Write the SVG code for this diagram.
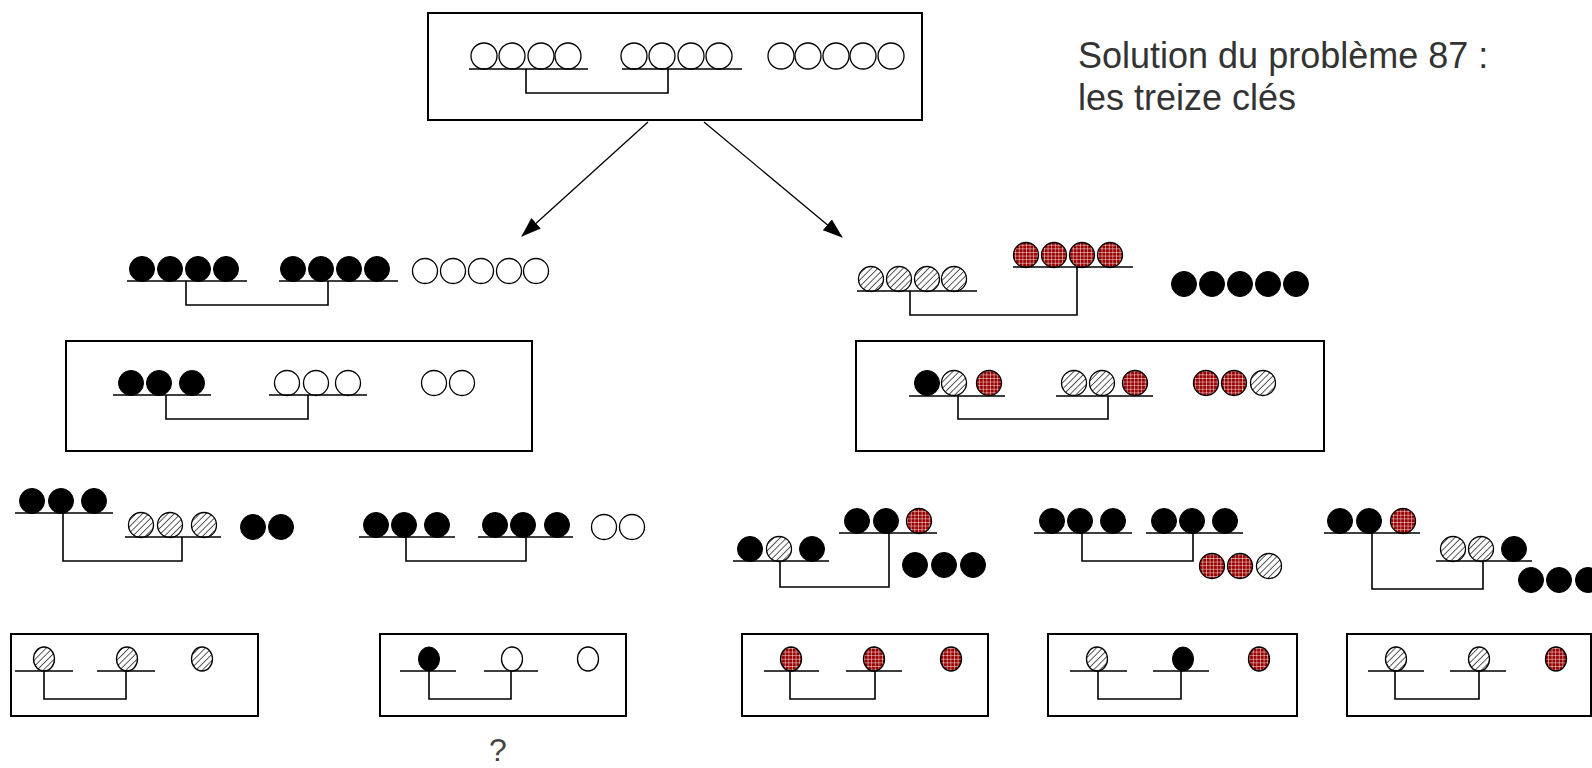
<svg xmlns="http://www.w3.org/2000/svg" width="1592" height="768" viewBox="0 0 1592 768">
<defs>
<pattern id="hatch" patternUnits="userSpaceOnUse" width="4.5" height="4.5" patternTransform="rotate(45)">
<rect width="4.5" height="4.5" fill="#fff"/>
<line x1="0" y1="0" x2="0" y2="4.5" stroke="#000" stroke-width="1.3"/>
</pattern>
<pattern id="grid" patternUnits="userSpaceOnUse" width="3.6" height="3.6">
<rect width="3.6" height="3.6" fill="#980000"/>
<path d="M0,0.4H3.6M0.4,0V3.6" stroke="#ffffff" stroke-width="0.7" stroke-opacity="0.7"/>
</pattern>
<marker id="ah" markerUnits="userSpaceOnUse" markerWidth="20" markerHeight="14" refX="19" refY="7" orient="auto">
<path d="M0,0 L20,7 L0,14 z" fill="#000"/>
</marker>
<style>
.box{fill:#fff;stroke:#000;stroke-width:2}
.o{fill:#fff;stroke:#000;stroke-width:1.3}
.b{fill:#000;stroke:#000;stroke-width:1}
.h{fill:url(#hatch);stroke:#000;stroke-width:1.3}
.r{fill:url(#grid);stroke:#000;stroke-width:1.3}
.ln{fill:none;stroke:#000;stroke-width:1.6}
.arr{stroke:#000;stroke-width:1.3;fill:none}
.t{font-family:"Liberation Sans",Arial,sans-serif;font-size:36px;fill:#333}
.q{font-family:"Liberation Sans",Arial,sans-serif;font-size:32px;fill:#444}
</style>
</defs>
<rect width="1592" height="768" fill="#fff"/>

<g id="connectors">
<line class="arr" x1="648" y1="122" x2="522" y2="236" marker-end="url(#ah)"/>
<line class="arr" x1="704" y1="122" x2="842" y2="237" marker-end="url(#ah)"/>
</g>

<g id="n-top">
<rect class="box" x="428" y="13" width="494" height="107"/>
<g class="o">
<circle cx="484" cy="56" r="13"/><circle cx="512" cy="56" r="13"/><circle cx="541" cy="56" r="13"/><circle cx="568" cy="56" r="13"/>
<circle cx="634" cy="56" r="13"/><circle cx="662" cy="56" r="13"/><circle cx="691" cy="56" r="13"/><circle cx="719" cy="56" r="13"/>
<circle cx="781" cy="56" r="13"/><circle cx="808" cy="56" r="13"/><circle cx="836" cy="56" r="13"/><circle cx="863" cy="56" r="13"/><circle cx="891" cy="56" r="13"/>
</g>
<path class="ln" d="M469,69H588M622,69H742M526,69V93H668V69"/>
</g>

<g id="title">
<text class="t" x="1078" y="68">Solution du problème 87 :</text>
<text class="t" x="1078" y="110">les treize clés</text>
</g>

<g id="n-l1">
<g class="b">
<circle cx="142" cy="269" r="12.5"/><circle cx="170" cy="269" r="12.5"/><circle cx="198" cy="269" r="12.5"/><circle cx="226" cy="269" r="12.5"/>
<circle cx="293" cy="269" r="12.5"/><circle cx="321" cy="269" r="12.5"/><circle cx="349" cy="269" r="12.5"/><circle cx="377" cy="269" r="12.5"/>
</g>
<g class="o">
<circle cx="425" cy="271" r="12.5"/><circle cx="453" cy="271" r="12.5"/><circle cx="481" cy="271" r="12.5"/><circle cx="509" cy="271" r="12.5"/><circle cx="536" cy="271" r="12.5"/>
</g>
<path class="ln" d="M127,281H247M279,281H398M186,281V305H328V281"/>
</g>

<g id="n-r1">
<g class="h">
<circle cx="871" cy="279" r="12.5"/><circle cx="899" cy="279" r="12.5"/><circle cx="927" cy="279" r="12.5"/><circle cx="954" cy="279" r="12.5"/>
</g>
<g class="r">
<circle cx="1026" cy="255" r="12.5"/><circle cx="1054" cy="255" r="12.5"/><circle cx="1082" cy="255" r="12.5"/><circle cx="1110" cy="255" r="12.5"/>
</g>
<g class="b">
<circle cx="1184" cy="284" r="12.5"/><circle cx="1212" cy="284" r="12.5"/><circle cx="1240" cy="284" r="12.5"/><circle cx="1268" cy="284" r="12.5"/><circle cx="1296" cy="284" r="12.5"/>
</g>
<path class="ln" d="M857,291H977M1013,267H1133M910,291V315H1077V267"/>
</g>

<g id="n-l2">
<rect class="box" x="66" y="341" width="466" height="110"/>
<g class="b"><circle cx="131" cy="383" r="12.5"/><circle cx="159" cy="383" r="12.5"/><circle cx="192" cy="383" r="12.5"/></g>
<g class="o"><circle cx="287" cy="383" r="12.5"/><circle cx="316" cy="383" r="12.5"/><circle cx="348" cy="383" r="12.5"/>
<circle cx="434" cy="383" r="12.5"/><circle cx="462" cy="383" r="12.5"/></g>
<path class="ln" d="M113,395H211M269,395H367M166,395V419H308V395"/>
</g>

<g id="n-r2">
<rect class="box" x="856" y="341" width="468" height="110"/>
<circle class="b" cx="927" cy="383" r="12.5"/><circle class="h" cx="954" cy="383" r="12.5"/><circle class="r" cx="989" cy="383" r="12.5"/>
<circle class="h" cx="1074" cy="383" r="12.5"/><circle class="h" cx="1102" cy="383" r="12.5"/><circle class="r" cx="1135" cy="383" r="12.5"/>
<circle class="r" cx="1206" cy="383" r="12.5"/><circle class="r" cx="1234" cy="383" r="12.5"/><circle class="h" cx="1263" cy="383" r="12.5"/>
<path class="ln" d="M909,396H1005M1056,396H1153M958,396V419H1108V396"/>
</g>

<g id="n-l3">
<g class="b"><circle cx="32" cy="501" r="12.5"/><circle cx="61" cy="501" r="12.5"/><circle cx="94" cy="501" r="12.5"/></g>
<g class="h"><circle cx="141" cy="525" r="12.5"/><circle cx="170" cy="525" r="12.5"/><circle cx="204" cy="525" r="12.5"/></g>
<g class="b"><circle cx="253" cy="527" r="12.5"/><circle cx="281" cy="527" r="12.5"/></g>
<path class="ln" d="M15,513H113M125,537H221M63,513V561H182V537"/>
</g>

<g id="n-l4">
<g class="b"><circle cx="376" cy="525" r="12.5"/><circle cx="404" cy="525" r="12.5"/><circle cx="437" cy="525" r="12.5"/>
<circle cx="495" cy="525" r="12.5"/><circle cx="523" cy="525" r="12.5"/><circle cx="557" cy="525" r="12.5"/></g>
<g class="o"><circle cx="604" cy="527" r="12.5"/><circle cx="632" cy="527" r="12.5"/></g>
<path class="ln" d="M359,537H455M478,537H573M406,537V561H526V537"/>
</g>

<g id="n-r3">
<circle class="b" cx="750" cy="549" r="12.5"/><circle class="h" cx="779" cy="549" r="12.5"/><circle class="b" cx="812" cy="549" r="12.5"/>
<circle class="b" cx="857" cy="521" r="12.5"/><circle class="b" cx="886" cy="521" r="12.5"/><circle class="r" cx="919" cy="521" r="12.5"/>
<g class="b"><circle cx="915" cy="565" r="12.5"/><circle cx="944" cy="565" r="12.5"/><circle cx="973" cy="565" r="12.5"/></g>
<path class="ln" d="M733,561H829M839,533H937M780,561V587H889V533"/>
</g>

<g id="n-r4">
<g class="b"><circle cx="1052" cy="521" r="12.5"/><circle cx="1080" cy="521" r="12.5"/><circle cx="1113" cy="521" r="12.5"/>
<circle cx="1164" cy="521" r="12.5"/><circle cx="1192" cy="521" r="12.5"/><circle cx="1225" cy="521" r="12.5"/></g>
<circle class="r" cx="1212" cy="566" r="12.5"/><circle class="r" cx="1240" cy="566" r="12.5"/><circle class="h" cx="1269" cy="566" r="12.5"/>
<path class="ln" d="M1034,533H1132M1146,533H1243M1082,533V561H1193V533"/>
</g>

<g id="n-r5">
<circle class="b" cx="1340" cy="521" r="12.5"/><circle class="b" cx="1369" cy="521" r="12.5"/><circle class="r" cx="1403" cy="521" r="12.5"/>
<circle class="h" cx="1453" cy="549" r="12.5"/><circle class="h" cx="1481" cy="549" r="12.5"/><circle class="b" cx="1514" cy="549" r="12.5"/>
<g class="b"><circle cx="1531" cy="580" r="12.5"/><circle cx="1559" cy="580" r="12.5"/><circle cx="1588" cy="580" r="12.5"/></g>
<path class="ln" d="M1324,533H1420M1436,561H1532M1372,533V589H1483V561"/>
</g>

<g id="n-l5">
<rect class="box" x="11" y="634" width="247" height="82"/>
<ellipse class="h" cx="44" cy="659" rx="10.5" ry="12"/><ellipse class="h" cx="127" cy="659" rx="10.5" ry="12"/><ellipse class="h" cx="202" cy="659" rx="10.5" ry="12"/>
<path class="ln" d="M15,671H73M97,671H155M44,671V699H126V671"/>
</g>

<g id="n-l6">
<rect class="box" x="380" y="634" width="246" height="82"/>
<ellipse class="b" cx="429" cy="659" rx="10.5" ry="12"/><ellipse class="o" cx="512" cy="659" rx="10.5" ry="12"/><ellipse class="o" cx="588" cy="659" rx="10.5" ry="12"/>
<path class="ln" d="M400,671H456M484,671H538M429,671V699H511V671"/>
</g>

<g id="q">
<text class="q" x="498" y="761" text-anchor="middle">?</text>
</g>

<g id="n-r6">
<rect class="box" x="742" y="634" width="246" height="82"/>
<ellipse class="r" cx="791" cy="659" rx="10.5" ry="12"/><ellipse class="r" cx="874" cy="659" rx="10.5" ry="12"/><ellipse class="r" cx="951" cy="659" rx="10.5" ry="12"/>
<path class="ln" d="M764,671H819M846,671H902M790,671V699H875V671"/>
</g>

<g id="n-r7">
<rect class="box" x="1048" y="634" width="249" height="82"/>
<ellipse class="h" cx="1097" cy="659" rx="10.5" ry="12"/><ellipse class="b" cx="1183" cy="659" rx="10.5" ry="12"/><ellipse class="r" cx="1259" cy="659" rx="10.5" ry="12"/>
<path class="ln" d="M1070,671H1127M1153,671H1209M1098,671V699H1181V671"/>
</g>

<g id="n-r8">
<rect class="box" x="1347" y="634" width="244" height="82"/>
<ellipse class="h" cx="1396" cy="659" rx="10.5" ry="12"/><ellipse class="h" cx="1479" cy="659" rx="10.5" ry="12"/><ellipse class="r" cx="1556" cy="659" rx="10.5" ry="12"/>
<path class="ln" d="M1368,671H1424M1450,671H1506M1395,671V699H1479V671"/>
</g>
</svg>
